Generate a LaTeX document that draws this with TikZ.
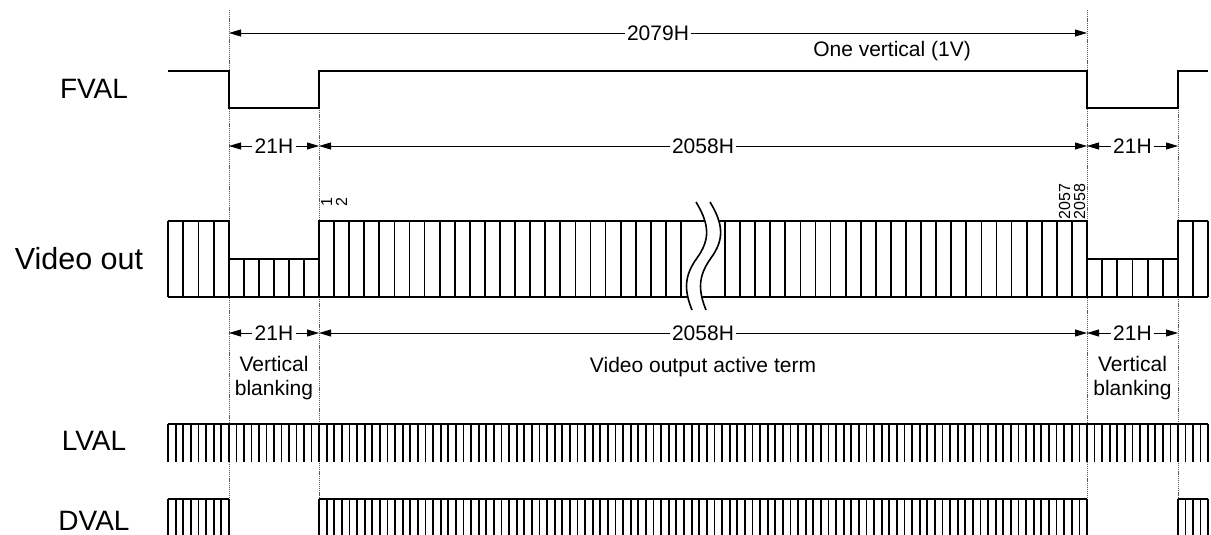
\documentclass[tikz,border=0pt]{standalone}
\usepackage{fontspec}
\setmainfont{Liberation Sans}
\usetikzlibrary{arrows.meta}
\begin{document}
\begin{tikzpicture}[x=1pt,y=-1pt,
  sig/.style={line width=1.8pt, line join=miter},
  comb/.style={line width=1.8pt},
  grid/.style={line width=0.8pt, draw=black!65, dash pattern=on 1.2pt off 0.9pt},
  dim/.style={line width=0.8pt, {Triangle[length=12pt,width=7pt]}-{Triangle[length=12pt,width=7pt]}},
  dimlbl/.style={fill=white, inner sep=2.5pt, font=\fontsize{21}{24}\selectfont},
  biglbl/.style={font=\fontsize{28}{32}\selectfont, inner sep=0pt},
  txt/.style={font=\fontsize{21}{24}\selectfont, inner sep=0pt, align=center},
  num/.style={font=\fontsize{16}{18}\selectfont, inner sep=0pt, rotate=90, anchor=west}
]
\useasboundingbox (0,0) rectangle (1211,535);

% grid lines
\draw[grid] (229,10) -- (229,499);
\draw[grid] (319,108) -- (319,499);
\draw[grid] (1087,10) -- (1087,499);
\draw[grid] (1178,108) -- (1178,499);

% signal names
\node[biglbl] (nFVAL) at (94,89) {FVAL};
\node[biglbl, font=\fontsize{30.5}{34}\selectfont] (nVID) at (79,259) {Video out};
\node[biglbl] (nLVAL) at (94,441) {LVAL};
\node[biglbl] (nDVAL) at (94,521) {DVAL};

% top dimension
\coordinate (a1) at (229,33);
\coordinate (a2) at (1087,33);
\draw[dim] (a1) -- node[dimlbl] (l2079) {2079H} (a2);
\node[txt, anchor=base east] (l1v) at (971,57) {One vertical (1V)};

% dimension rows
\foreach \r/\y in {b/146, c/333}{
  \coordinate (\r1) at (229,\y);
  \coordinate (\r2) at (319,\y);
  \coordinate (\r3) at (1087,\y);
  \coordinate (\r4) at (1178,\y);
  \draw[dim] (\r1) -- node[dimlbl] (\r l1) {21H} (\r2);
  \draw[dim] (\r2) -- node[dimlbl] (\r l2) {2058H} (\r3);
  \draw[dim] (\r3) -- node[dimlbl] (\r l3) {21H} (\r4);
}
\node[txt] (vb1) at (274,378) {Vertical\\blanking};
\node[txt] (vb2) at (1132.5,378) {Vertical\\blanking};
\node[txt] (vact) at (703,367) {Video output active term};

% FVAL
\draw[sig] (168,71) -- (229,71) -- (229,108) -- (319,108) -- (319,71)
  -- (1087,71) -- (1087,108) -- (1178,108) -- (1178,71) -- (1208,71);

% Video out cells
\foreach \i in {0,...,4} \draw[sig] ({168+\i*15.25},221) -- ({168+\i*15.25},297);
\foreach \i in {0,...,6} \draw[sig] ({229+\i*15},259) -- ({229+\i*15},297);
\foreach \i in {0,...,24} \draw[sig] ({319+\i*15.083},221) -- ({319+\i*15.083},297);
\foreach \i in {0,...,24} \draw[sig] ({725+\i*15.083},221) -- ({725+\i*15.083},297);
\foreach \i in {0,...,6} \draw[sig] ({1087+\i*15.1667},259) -- ({1087+\i*15.1667},297);
\foreach \i in {0,...,2} \draw[sig] ({1178+\i*15},221) -- ({1178+\i*15},297);
\draw[sig] (168,221) -- (229,221) -- (229,259) -- (319,259) -- (319,221)
  -- (1087,221) -- (1087,259) -- (1178,259) -- (1178,221) -- (1208,221);
\draw[sig] (168,297) -- (1208,297);

% break
\fill[white] (696,202) .. controls (710,225) and (710,240) .. (697,258)
  .. controls (684,276) and (684,290) .. (692,310) -- (706,310)
  .. controls (698,290) and (698,276) .. (711,258)
  .. controls (724,240) and (724,225) .. (710,202) -- cycle;
\draw[line width=1.6pt] (696,202) .. controls (710,225) and (710,240) .. (697,258)
  .. controls (684,276) and (684,290) .. (692,310);
\draw[line width=1.6pt] (710,202) .. controls (724,225) and (724,240) .. (711,258)
  .. controls (698,276) and (698,290) .. (706,310);

% cell numbers
\node[num] (n1) at (326.5,207) {1};
\node[num] (n2) at (341.6,207) {2};
\node[num] (n2057) at (1064.5,219.5) {2057};
\node[num] (n2058) at (1079.6,219.5) {2058};

% LVAL
\draw[sig] (168,424) -- (1208,424);
\foreach \s/\n/\w in {168/8/7.625, 229/12/7.5, 319/101/7.604, 1087/12/7.583, 1178/4/7.5}{
  \foreach \i in {0,...,\n} \draw[comb] ({\s+\i*\w},424) -- ({\s+\i*\w},462);
}

% DVAL
\draw[sig] (168,499) -- (229,499);
\draw[sig] (319,499) -- (1087,499);
\draw[sig] (1178,499) -- (1208,499);
\foreach \s/\n/\w in {168/8/7.625, 319/101/7.604, 1178/4/7.5}{
  \foreach \i in {0,...,\n} \draw[comb] ({\s+\i*\w},499) -- ({\s+\i*\w},535);
}
\end{tikzpicture}
\end{document}
